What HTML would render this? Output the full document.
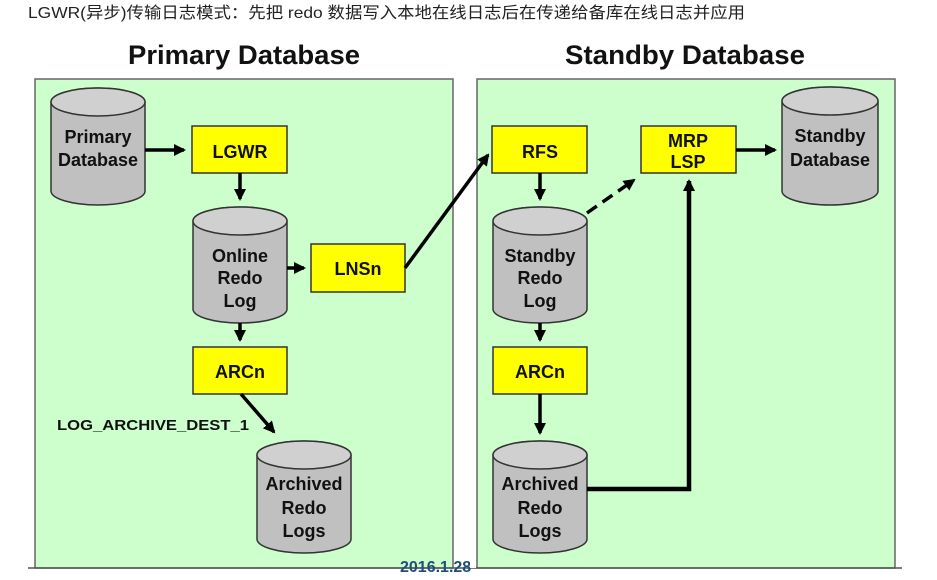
<!DOCTYPE html>
<html><head><meta charset="utf-8"><style>
html,body{margin:0;padding:0;background:#fff;width:937px;height:580px;overflow:hidden}
svg{display:block}
.t{font-family:"Liberation Sans",Arial,sans-serif;font-weight:bold;fill:#111}
</style></head><body>
<svg width="937" height="580" viewBox="0 0 937 580" xmlns="http://www.w3.org/2000/svg">
<defs>
<marker id="b" markerWidth="12" markerHeight="12" refX="10" refY="6" orient="auto" markerUnits="userSpaceOnUse"><path d="M0,0 L12,6 L0,12 Z" fill="#000"/></marker>
</defs>
<text x="28" y="18" font-family="Liberation Sans,'Noto Sans CJK SC',sans-serif" font-size="16" fill="#222" textLength="717" lengthAdjust="spacingAndGlyphs">LGWR(异步)传输日志模式：先把 redo 数据写入本地在线日志后在传递给备库在线日志并应用</text>
<text class="t" x="244" y="64" font-size="27" text-anchor="middle" textLength="232" lengthAdjust="spacingAndGlyphs">Primary Database</text>
<text class="t" x="685" y="64" font-size="27" text-anchor="middle" textLength="240" lengthAdjust="spacingAndGlyphs">Standby Database</text>
<rect x="35" y="79" width="418" height="489" fill="#ccffcc" stroke="#666" stroke-width="1.5"/>
<rect x="477" y="79" width="418" height="489" fill="#ccffcc" stroke="#666" stroke-width="1.5"/>
<line x1="28" y1="568" x2="902" y2="568" stroke="#555" stroke-width="1.5"/>
<text x="400" y="572" font-family="Liberation Sans,sans-serif" font-size="16" font-weight="bold" fill="#1f4e79">2016.1.28</text>
<rect x="470" y="552" width="6" height="16" fill="#fff"/>
<g stroke="#333" stroke-width="1.5" fill="#c0c0c0">
<path d="M51,102 A47,14 0 0 1 145,102 V191 A47,14 0 0 1 51,191 Z"/><ellipse cx="98" cy="102" rx="47" ry="14" fill="#d0d0d0"/>
<path d="M193,221 A47,14 0 0 1 287,221 V309 A47,14 0 0 1 193,309 Z"/><ellipse cx="240" cy="221" rx="47" ry="14" fill="#d0d0d0"/>
<path d="M257,455 A47,14 0 0 1 351,455 V539 A47,14 0 0 1 257,539 Z"/><ellipse cx="304" cy="455" rx="47" ry="14" fill="#d0d0d0"/>
<path d="M782,101 A48,14 0 0 1 878,101 V191 A48,14 0 0 1 782,191 Z"/><ellipse cx="830" cy="101" rx="48" ry="14" fill="#d0d0d0"/>
<path d="M493,221 A47,14 0 0 1 587,221 V309 A47,14 0 0 1 493,309 Z"/><ellipse cx="540" cy="221" rx="47" ry="14" fill="#d0d0d0"/>
<path d="M493,455 A47,14 0 0 1 587,455 V539 A47,14 0 0 1 493,539 Z"/><ellipse cx="540" cy="455" rx="47" ry="14" fill="#d0d0d0"/>
</g>
<g stroke="#333" stroke-width="1.5" fill="#ffff00">
<rect x="192" y="126" width="95" height="47"/>
<rect x="311" y="244" width="94" height="48"/>
<rect x="193" y="347" width="94" height="47"/>
<rect x="492" y="126" width="95" height="47"/>
<rect x="641" y="126" width="95" height="47"/>
<rect x="493" y="347" width="94" height="47"/>
</g>
<g class="t" font-size="18" text-anchor="middle">
<text x="98" y="143">Primary</text><text x="98" y="166">Database</text>
<text x="240" y="158">LGWR</text>
<text x="240" y="262">Online</text><text x="240" y="284">Redo</text><text x="240" y="307">Log</text>
<text x="358" y="275">LNSn</text>
<text x="240" y="378">ARCn</text>
<text x="304" y="490">Archived</text><text x="304" y="514">Redo</text><text x="304" y="537">Logs</text>
<text x="540" y="158">RFS</text>
<text x="688" y="147">MRP</text><text x="688" y="168">LSP</text>
<text x="830" y="142">Standby</text><text x="830" y="166">Database</text>
<text x="540" y="262">Standby</text><text x="540" y="284">Redo</text><text x="540" y="307">Log</text>
<text x="540" y="378">ARCn</text>
<text x="540" y="490">Archived</text><text x="540" y="514">Redo</text><text x="540" y="537">Logs</text>
</g>
<text class="t" x="57" y="430" font-size="15" textLength="192" lengthAdjust="spacingAndGlyphs">LOG_ARCHIVE_DEST_1</text>
<g stroke="#000" stroke-width="3.5" fill="none">
<line x1="145" y1="150" x2="184" y2="150" marker-end="url(#b)"/>
<line x1="240" y1="173" x2="240" y2="199" marker-end="url(#b)"/>
<line x1="287" y1="268" x2="304" y2="268" marker-end="url(#b)"/>
<line x1="240" y1="323" x2="240" y2="340" marker-end="url(#b)"/>
<line x1="241" y1="394" x2="274" y2="432" marker-end="url(#b)"/>
<line x1="405" y1="268" x2="488" y2="155" marker-end="url(#b)"/>
<line x1="540" y1="173" x2="540" y2="199" marker-end="url(#b)"/>
<line x1="540" y1="323" x2="540" y2="340" marker-end="url(#b)"/>
<line x1="540" y1="394" x2="540" y2="433" marker-end="url(#b)"/>
<line x1="587" y1="213" x2="634" y2="180" stroke-dasharray="12,7" marker-end="url(#b)"/>
<line x1="736" y1="150" x2="775" y2="150" marker-end="url(#b)"/>
<polyline points="587,489 689,489 689,181" stroke-width="4.5" marker-end="url(#b)"/>
</g>
</svg>
</body></html>
